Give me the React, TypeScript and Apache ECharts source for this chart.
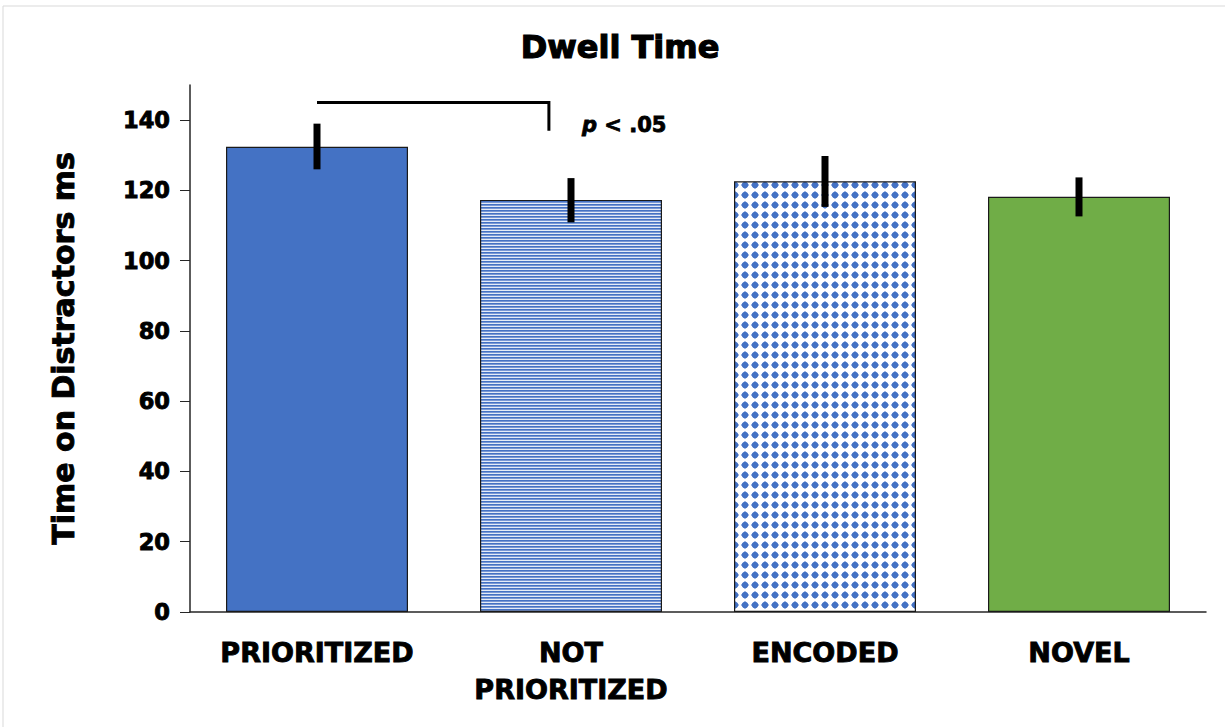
import React, { useEffect, useRef } from "react";
import * as echarts from "echarts";

const categories = ["PRIORITIZED", "NOT\nPRIORITIZED", "ENCODED", "NOVEL"];
const means = [132.4, 117.3, 122.6, 118.2];
const errLow = [126.0, 110.9, 115.3, 112.6];
const errHigh = [139.0, 123.5, 129.8, 123.7];
const yTicks = [0, 20, 40, 60, 80, 100, 120, 140];
const yMax = 150;
const bracketCats = [0, 1];
const bracketLevels = [145, 137];
const pLabelLevel = 138.5;

const FONT = "DejaVu Sans";
const HEAVY = { textBorderColor: "#000", textBorderWidth: 0.9 };

function stripeCanvas() {
  const c = document.createElement("canvas");
  c.width = 8;
  c.height = 3;
  const ctx = c.getContext("2d")!;
  const rows = ["#4472C4", "#7a98d4", "#e4ebf7"];
  rows.forEach((col, i) => {
    ctx.fillStyle = col;
    ctx.fillRect(0, i, 8, 1);
  });
  return c;
}

function dotCanvas() {
  const c = document.createElement("canvas");
  c.width = 10;
  c.height = 10;
  const ctx = c.getContext("2d")!;
  ctx.fillStyle = "#ffffff";
  ctx.fillRect(0, 0, 10, 10);
  ctx.fillStyle = "#4472C4";
  ctx.beginPath();
  ctx.moveTo(5, 1.0);
  ctx.lineTo(9.0, 5);
  ctx.lineTo(5, 9.0);
  ctx.lineTo(1.0, 5);
  ctx.closePath();
  ctx.fill();
  ctx.beginPath();
  ctx.arc(5, 5, 3.1, 0, Math.PI * 2);
  ctx.fill();
  return c;
}

export default function App() {
  const ref = useRef<HTMLDivElement>(null);
  useEffect(() => {
    document.body.style.margin = "0";
    const chart = echarts.init(ref.current!, null, { renderer: "svg" });
    const fills: any[] = [
      "#4472C4",
      { image: stripeCanvas(), repeat: "repeat" },
      { image: dotCanvas(), repeat: "repeat" },
      "#70AD47",
    ];
    const option: any = {
      animation: false,
      backgroundColor: "#ffffff",
      graphic: [
        {
          type: "rect",
          shape: { x: 3, y: 6, width: 1240, height: 740 },
          style: { fill: "none", stroke: "#d9d9d9", lineWidth: 1 },
          silent: true,
        },
        {
          type: "text",
          x: 620,
          y: 47,
          style: {
            text: "Dwell Time",
            font: `bold 32px "${FONT}"`,
            fill: "#000",
            stroke: "#000",
            lineWidth: 1.2,
            align: "center",
            verticalAlign: "middle",
          },
        },
      ],
      grid: { left: 190, right: 19, top: 85, bottom: 115 },
      xAxis: {
        type: "category",
        data: categories,
        axisLine: { lineStyle: { color: "#262626", width: 1.5 } },
        axisTick: { show: false },
        axisLabel: {
          interval: 0,
          color: "#000",
          fontFamily: FONT,
          fontWeight: "bold",
          fontSize: 27,
          lineHeight: 37,
          margin: 22,
          ...HEAVY,
        },
      },
      yAxis: {
        type: "value",
        min: 0,
        max: yMax,
        interval: 20,
        name: "Time on Distractors ms",
        nameLocation: "middle",
        nameGap: 112,
        nameTextStyle: {
          color: "#000",
          fontFamily: FONT,
          fontWeight: "bold",
          fontSize: 30,
          ...HEAVY,
        },
        axisLine: { show: true, lineStyle: { color: "#262626", width: 1.5 } },
        axisTick: {
          show: true,
          length: 10,
          customValues: yTicks,
          lineStyle: { color: "#262626", width: 1 },
        },
        axisLabel: {
          customValues: yTicks,
          color: "#000",
          fontFamily: FONT,
          fontWeight: "bold",
          fontSize: 22.5,
          margin: 20,
          ...HEAVY,
        },
        splitLine: { show: false },
      },
      series: [
        {
          type: "bar",
          barWidth: 182,
          data: means.map((v, i) => ({
            value: v,
            itemStyle: { color: fills[i] },
          })),
          itemStyle: { borderColor: "#1a1a1a", borderWidth: 1.2 },
        },
        {
          type: "custom",
          data: categories.map((_, i) => [i, errLow[i], errHigh[i]]),
          renderItem: (params: any, api: any) => {
            const x = api.value(0);
            const p1 = api.coord([x, api.value(2)]);
            const p2 = api.coord([x, api.value(1)]);
            return {
              type: "rect",
              shape: { x: p1[0] - 3.5, y: p1[1], width: 7, height: p2[1] - p1[1] },
              style: { fill: "#000" },
            };
          },
          z: 5,
        },
        {
          type: "custom",
          data: [[bracketCats[0], bracketCats[1], bracketLevels[0], bracketLevels[1]]],
          renderItem: (params: any, api: any) => {
            const a = api.coord([api.value(0), api.value(2)]);
            const b = api.coord([api.value(1), api.value(2)]);
            const bBot = api.coord([api.value(1), api.value(3)]);
            const x1 = a[0] + (b[0] - a[0]) * 0.913;
            const textPt = api.coord([api.value(1), pLabelLevel]);
            return {
              type: "group",
              children: [
                {
                  type: "polyline",
                  shape: { points: [[a[0], a[1]], [x1, a[1]], [x1, bBot[1]]] },
                  style: { stroke: "#000", lineWidth: 3, fill: "none" },
                },
                {
                  type: "text",
                  x: x1 + 33,
                  y: textPt[1],
                  style: {
                    text: "{i|p}{n| < .05}",
                    align: "left",
                    verticalAlign: "middle",
                    rich: {
                      i: {
                        font: `italic bold 21px "${FONT}"`,
                        fill: "#000",
                        stroke: "#000",
                        lineWidth: 0.8,
                      },
                      n: {
                        font: `bold 21px "${FONT}"`,
                        fill: "#000",
                        stroke: "#000",
                        lineWidth: 0.8,
                      },
                    },
                  },
                },
              ],
            };
          },
          z: 6,
        },
      ],
    };
    chart.setOption(option);
    return () => chart.dispose();
  }, []);
  return <div ref={ref} style={{ width: 1225, height: 727 }} />;
}
